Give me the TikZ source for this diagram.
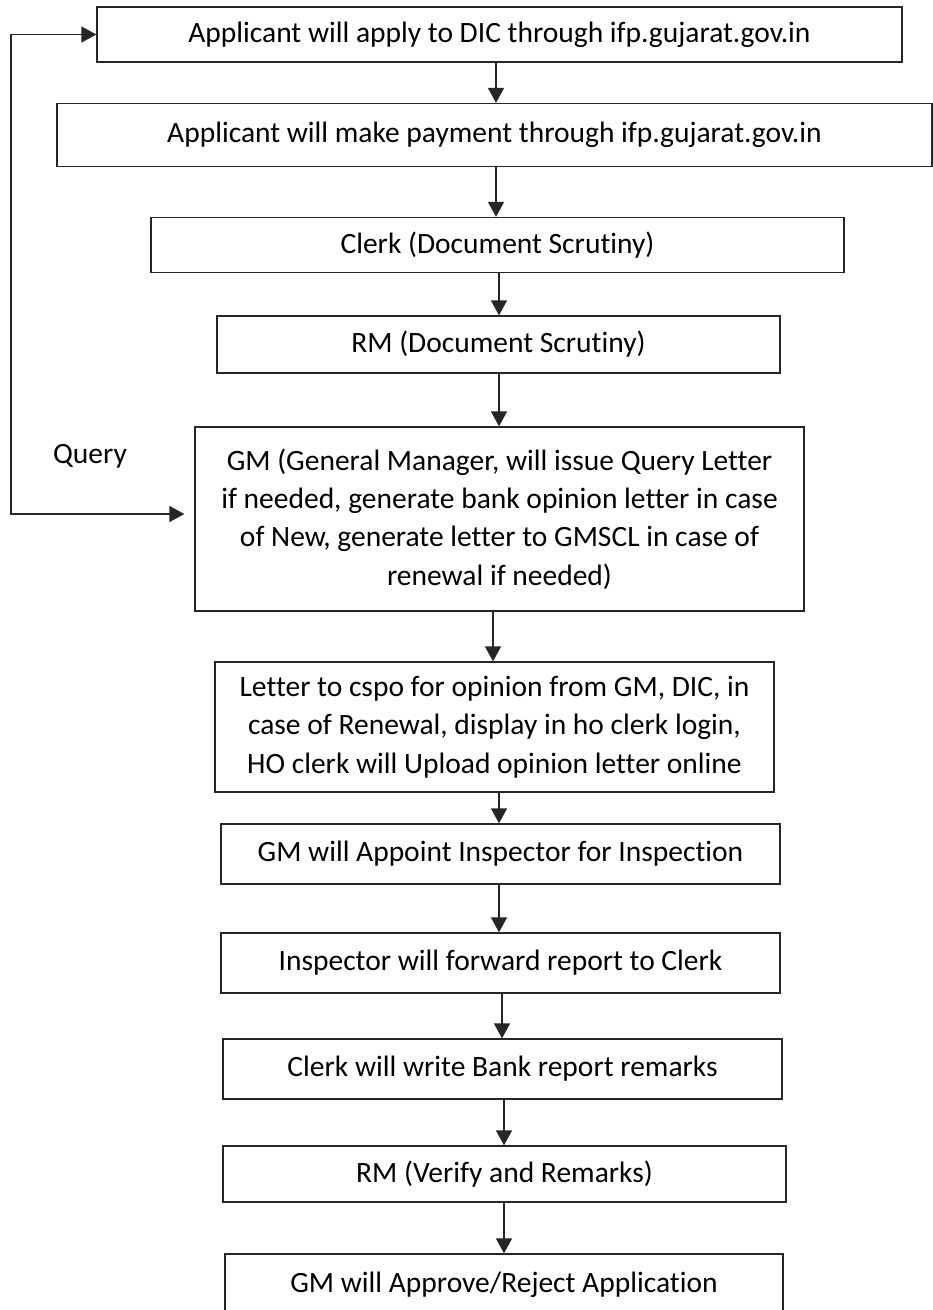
\documentclass[tikz,border=0pt]{standalone}
\usepackage{fontspec}
\setmainfont{Carlito}[Ligatures=NoCommon]
\usetikzlibrary{arrows.meta}
\begin{document}
\begin{tikzpicture}[x=1pt,y=-1pt,
  box/.style={draw=black!85, line width=1.3pt, inner sep=0pt, align=center,
    font=\fontsize{29.5}{38.3}\selectfont},
  arr/.style={draw=black!85, line width=1.3pt, -{Triangle[width=16pt,length=15pt]}},
  arrtwo/.style={draw=black!85, line width=1.3pt,
    {Triangle[width=16pt,length=15pt]}-{Triangle[width=16pt,length=15pt]}},
  lbl/.style={font=\fontsize{29.5}{34}\selectfont, inner sep=0pt}]
\useasboundingbox (0,0) rectangle (933,1310);
\clip (0,0) rectangle (933,1310);
\fill[white] (0,0) rectangle (933,1310);

\node[box, minimum width=805pt, minimum height=55pt] (b1) at (499.5,34.5)
  {Applicant will apply to DIC through ifp.gujarat.gov.in};
\node[box, minimum width=875pt, minimum height=63pt] (b2) at (494.5,135)
  {Applicant will make payment through ifp.gujarat.gov.in};
\node[box, minimum width=693pt, minimum height=55pt] (b3) at (497.5,245)
  {Clerk (Document Scrutiny)};
\node[box, minimum width=563pt, minimum height=57pt] (b4) at (498.5,344.5)
  {RM (Document Scrutiny)};
\node[box, minimum width=609pt, minimum height=184pt] (b5) at (499.5,519)
  {GM (General Manager, will issue Query Letter\\
   if needed, generate bank opinion letter in case\\
   of New, generate letter to GMSCL in case of\\
   renewal if needed)};
\node[box, minimum width=559pt, minimum height=130pt] (b6) at (494.5,727)
  {Letter to cspo for opinion from GM, DIC, in\\
   case of Renewal, display in ho clerk login,\\
   HO clerk will Upload opinion letter online};
\node[box, minimum width=559pt, minimum height=60pt] (b7) at (500.5,854)
  {GM will Appoint Inspector for Inspection};
\node[box, minimum width=559pt, minimum height=60pt] (b8) at (500.5,963)
  {Inspector will forward report to Clerk};
\node[box, minimum width=559pt, minimum height=60pt] (b9) at (502.5,1069)
  {Clerk will write Bank report remarks};
\node[box, minimum width=563pt, minimum height=56pt] (b10) at (504.5,1174)
  {RM (Verify and Remarks)};
\node[box, minimum width=558pt, minimum height=62pt] (b11) at (504,1285)
  {GM will Approve/Reject Application};

\node[lbl] (q) at (90,456) {Query};

\draw[arr] ([xshift=-3.5pt]b1.south) -- ([xshift=-3.5pt]b1.south |- b2.north);
\draw[arr] ([xshift=1.5pt]b2.south) -- ([xshift=1.5pt]b2.south |- b3.north);
\draw[arr] ([xshift=1.5pt]b3.south) -- ([xshift=1.5pt]b3.south |- b4.north);
\draw[arr] ([xshift=0.5pt]b4.south) -- ([xshift=0.5pt]b4.south |- b5.north);
\draw[arr] ([xshift=-6.5pt]b5.south) -- ([xshift=-6.5pt]b5.south |- b6.north);
\draw[arr] ([xshift=4.5pt]b6.south) -- ([xshift=4.5pt]b6.south |- b7.north);
\draw[arr] ([xshift=-1.5pt]b7.south) -- ([xshift=-1.5pt]b7.south |- b8.north);
\draw[arr] ([xshift=1.5pt]b8.south) -- ([xshift=1.5pt]b8.south |- b9.north);
\draw[arr] ([xshift=1.5pt]b9.south) -- ([xshift=1.5pt]b9.south |- b10.north);
\draw[arr] ([xshift=-0.5pt]b10.south) -- ([xshift=-0.5pt]b10.south |- b11.north);

\coordinate (qlow) at (11,514);
\coordinate (qtop) at (11,34.5);
\draw[arrtwo] ([xshift=-10pt,yshift=5pt]b5.west) -- (qlow) -- (qtop) -- (b1.west);
\end{tikzpicture}
\end{document}
